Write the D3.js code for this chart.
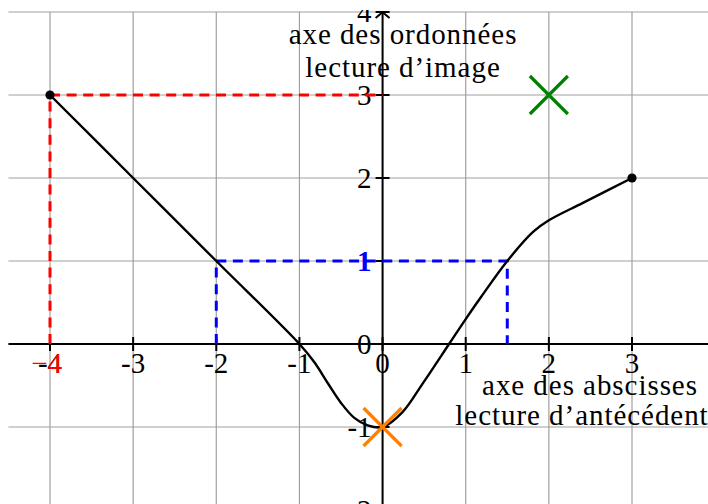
<!DOCTYPE html>
<html>
<head>
<meta charset="utf-8">
<script src="https://cdn.jsdelivr.net/npm/d3@7"></script>
<style>
  html, body { margin: 0; padding: 0; background: #fff; }
  svg { display: block; }
  text { font-family: "Liberation Serif", "DejaVu Serif", serif; }
</style>
</head>
<body>
<svg id="chart" width="708" height="504"></svg>
<script>
// Graph of f, with a reading of an image (red) and of antecedents (blue)
const xTicks = [-4, -3, -2, -1, 0, 1, 2, 3];
const yTicks = [-2, -1, 0, 1, 2, 3, 4];
const xTickLabels = ["-4", "-3", "-2", "-1", "0", "1", "2", "3"];
const yTickLabels = ["-2", "-1", "0", "1", "2", "3", "4"];

// points of the curve y = f(x)
const curveX = [-4, -3, -2, -1, -0.82, -0.66, -0.5, -0.34, -0.18, 0, 0.24, 0.48, 0.8, 1.0, 1.18, 1.5, 1.81, 2, 2.41, 3];
const curveY = [3, 2, 1, 0, -0.22, -0.47, -0.71, -0.89, -0.98, -1.0, -0.82, -0.48, 0, 0.3, 0.56, 1, 1.35, 1.49, 1.7, 2];

// endpoints of the curve
const endX = [-4, 3];
const endY = [3, 2];

// image of -4 : f(-4) = 3
const imageX = [-4, -4, 0];
const imageY = [0, 3, 3];
// antecedents of 1 : f(-2) = f(1.5) = 1
const antX = [-2, -2, 1.5, 1.5];
const antY = [0, 1, 1, 0];

// highlighted points
const crossX = [2, 0];
const crossY = [3, -1];
const crossColor = ["#008000", "#ff8000"];

const svg = d3.select("#chart");
const W = 708, H = 504;

const x = d3.scaleLinear().domain([-4, 3]).range([50, 632]);
const y = d3.scaleLinear().domain([-1, 3]).range([427, 95]);

const xLo = -4.5, xHi = 3.95, yLo = -2.1, yHi = 4;

svg.append("defs").append("clipPath").attr("id", "frame")
  .append("rect").attr("x", 0).attr("y", 10).attr("width", W).attr("height", H - 10);

const g = svg.append("g").attr("clip-path", "url(#frame)");

// grid
const gridX = d3.range(-4, 4);
const gridY = d3.range(-2, 5);
g.append("g").selectAll("line").data(gridX).join("line")
  .attr("x1", d => x(d)).attr("x2", d => x(d))
  .attr("y1", y(yHi)).attr("y2", y(yLo))
  .attr("stroke", "#a0a0a0").attr("stroke-width", 1.2);
g.append("g").selectAll("line").data(gridY).join("line")
  .attr("x1", x(xLo)).attr("x2", x(xHi))
  .attr("y1", d => y(d)).attr("y2", d => y(d))
  .attr("stroke", "#a0a0a0").attr("stroke-width", 1.2);

// axes
g.append("line")
  .attr("x1", x(xLo)).attr("x2", x(xHi)).attr("y1", y(0)).attr("y2", y(0))
  .attr("stroke", "#000").attr("stroke-width", 2);
g.append("line")
  .attr("x1", x(0)).attr("x2", x(0)).attr("y1", y(yLo)).attr("y2", y(yHi))
  .attr("stroke", "#000").attr("stroke-width", 2);
// arrow head of the y axis
g.append("path")
  .attr("d", `M${x(0) - 7},${y(yHi) + 6} Q${x(0) - 2},${y(yHi) + 2} ${x(0)},${y(yHi)} Q${x(0) + 2},${y(yHi) + 2} ${x(0) + 7},${y(yHi) + 6}`)
  .attr("fill", "none").attr("stroke", "#000").attr("stroke-width", 1.8);

// ticks
g.append("g").selectAll("line").data(xTicks).join("line")
  .attr("x1", d => x(d)).attr("x2", d => x(d))
  .attr("y1", y(0) - 7).attr("y2", y(0) + 7)
  .attr("stroke", "#000").attr("stroke-width", 2);
g.append("g").selectAll("line").data(yTicks).join("line")
  .attr("x1", x(0) - 7).attr("x2", x(0) + 7)
  .attr("y1", d => y(d)).attr("y2", d => y(d))
  .attr("stroke", "#000").attr("stroke-width", 2);

const fs = 29;

// tick labels
g.append("g").selectAll("text").data(xTicks).join("text")
  .attr("x", d => x(d)).attr("y", y(0) + 29)
  .attr("text-anchor", "middle").attr("font-size", fs)
  .text((d, i) => xTickLabels[i]);
g.append("g").selectAll("text").data(yTicks).join("text")
  .attr("x", x(0) - 11).attr("y", d => y(d) + 10)
  .attr("text-anchor", "end").attr("font-size", fs)
  .text((d, i) => yTickLabels[i]);

// dashed reading lines
const path = d3.line().x(d => x(d[0])).y(d => y(d[1]));
g.append("path")
  .attr("d", path(imageX.map((v, i) => [v, imageY[i]])))
  .attr("fill", "none").attr("stroke", "#ff0000").attr("stroke-width", 3)
  .attr("stroke-dasharray", "10,6.6");
g.append("path")
  .attr("d", path([[antX[0], antY[0]], [antX[1], antY[1]]]))
  .attr("fill", "none").attr("stroke", "#0000ff").attr("stroke-width", 3)
  .attr("stroke-dasharray", "10,6.6");
g.append("path")
  .attr("d", path([[antX[1], antY[1]], [antX[2], antY[2]], [antX[3], antY[3]]]))
  .attr("fill", "none").attr("stroke", "#0000ff").attr("stroke-width", 3)
  .attr("stroke-dasharray", "10,6.6");

// coloured readings
g.append("text")
  .attr("x", x(imageX[0]) + 12).attr("y", y(0) + 29)
  .attr("text-anchor", "end").attr("font-size", fs).attr("fill", "#ff0000")
  .text("\u2212" + Math.abs(imageX[0]));
g.append("text")
  .attr("x", x(0) - 11).attr("y", y(antY[1]) + 10)
  .attr("text-anchor", "end").attr("font-size", fs).attr("fill", "#0000ff")
  .attr("font-weight", "bold")
  .text(antY[1]);

// curve
const curve = d3.line().x(d => x(d[0])).y(d => y(d[1])).curve(d3.curveCatmullRom.alpha(0.5));
g.append("path")
  .attr("d", curve(curveX.map((v, i) => [v, curveY[i]])))
  .attr("fill", "none").attr("stroke", "#000").attr("stroke-width", 2.4)
  .attr("stroke-linejoin", "round");

g.append("g").selectAll("circle").data(endX).join("circle")
  .attr("cx", d => x(d)).attr("cy", (d, i) => y(endY[i])).attr("r", 4.6)
  .attr("fill", "#000");

// crosses
const arm = 19;
crossX.forEach((cx, i) => {
  const px = x(cx), py = y(crossY[i]);
  g.append("path")
    .attr("d", `M${px - arm},${py - arm}L${px + arm},${py + arm}M${px - arm},${py + arm}L${px + arm},${py - arm}`)
    .attr("stroke", crossColor[i]).attr("stroke-width", 3.2).attr("fill", "none");
});

// axis names
const yName = g.append("text").attr("text-anchor", "middle").attr("font-size", fs)
  .attr("letter-spacing", 0.95);
yName.append("tspan").attr("x", 403).attr("y", 44).text("axe des ordonnées");
yName.append("tspan").attr("x", 403).attr("y", 77).text("lecture d’image");

const xName = g.append("text").attr("text-anchor", "middle").attr("font-size", fs)
  .attr("letter-spacing", 0.95);
xName.append("tspan").attr("x", 590).attr("y", 395).text("axe des abscisses");
xName.append("tspan").attr("x", 582).attr("y", 425).text("lecture d’antécédent");
</script>
</body>
</html>
